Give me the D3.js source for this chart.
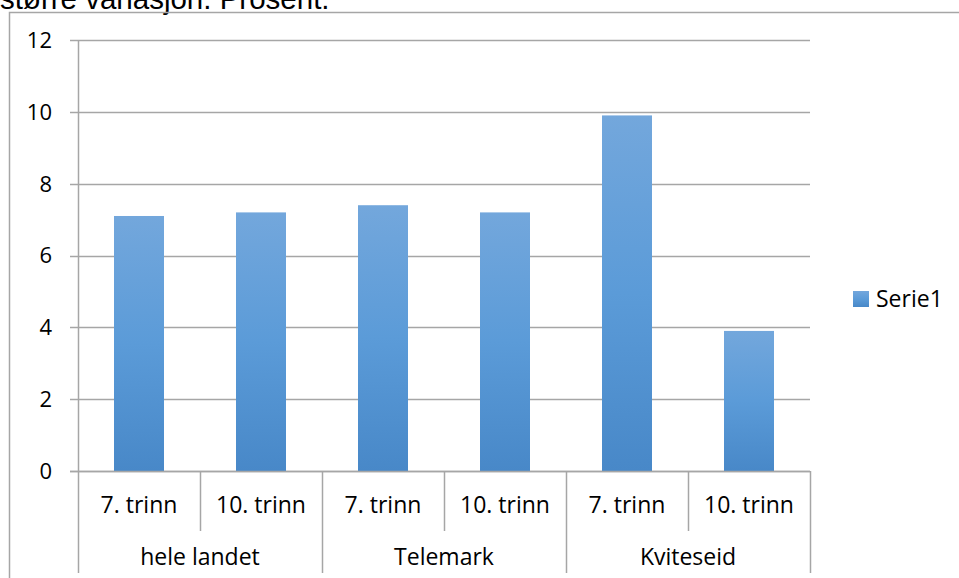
<!DOCTYPE html>
<html><head><meta charset="utf-8">
<script src="https://cdn.jsdelivr.net/npm/d3@7"></script>
<style>body{margin:0;background:#fff;} svg{display:block;}</style>
</head><body>
<svg id="c" width="959" height="578"></svg>
<script>
const groups = ["hele landet", "Telemark", "Kviteseid"];
const levels = ["7. trinn", "10. trinn"];
const values = [7.1, 7.2, 7.4, 7.2, 9.9, 3.9];
const yTicks = [0, 2, 4, 6, 8, 10, 12];
const seriesName = "Serie1";
const title = "større variasjon. Prosent.";

const svg = d3.select("#c");
const font = "'Open Sans', 'Noto Sans', sans-serif";
const L = 78, R = 810, T = 40, B = 471;
const cats = [];
groups.forEach(g => levels.forEach(l => cats.push(g + "|" + l)));
const x = d3.scaleBand().domain(cats).range([L, R]).paddingInner(0);
const y = d3.scaleLinear().domain([0, 12]).range([B, T]);

const defs = svg.append("defs");
const grad = defs.append("linearGradient").attr("id", "bg").attr("x1", 0).attr("y1", 0).attr("x2", 0).attr("y2", 1);
grad.append("stop").attr("offset", "0%").attr("stop-color", "#73a7dc");
grad.append("stop").attr("offset", "50%").attr("stop-color", "#5b9bd8");
grad.append("stop").attr("offset", "100%").attr("stop-color", "#4888c8");

// title text (clipped at top, as in the reference)
svg.append("text").attr("x", 0).attr("y", 9).attr("font-family", "'Liberation Sans', Arial, sans-serif")
  .attr("font-size", 29.5).attr("fill", "#000").text(title);

// outer frame
svg.append("path").attr("d", `M9.5,600 V12.5 H960`).attr("fill", "none").attr("stroke", "#a6a6a6").attr("stroke-width", 1.5);

// gridlines
const gridG = svg.append("g");
gridG.selectAll("line").data(yTicks).join("line")
  .attr("x1", 70).attr("x2", R).attr("y1", d => Math.round(y(d)) + 0.5).attr("y2", d => Math.round(y(d)) + 0.5)
  .attr("stroke", "#a6a6a6").attr("stroke-width", 1.5);

// y axis
const yAxis = svg.append("g").attr("transform", `translate(${L},0)`)
  .call(d3.axisLeft(y).tickValues(yTicks).tickSize(0).tickPadding(26));
yAxis.select(".domain").remove();
yAxis.selectAll("text").attr("font-family", font).attr("font-size", 22).attr("fill", "#000").attr("dy", "0.34em");
svg.append("line").attr("x1", L + 0.5).attr("x2", L + 0.5).attr("y1", T).attr("y2", 573).attr("stroke", "#a6a6a6").attr("stroke-width", 1.5);

// bars
const bw = 50;
svg.append("g").selectAll("rect").data(values).join("rect")
  .attr("x", (d, i) => x(cats[i]) + x.bandwidth() / 2 - bw / 2)
  .attr("width", bw)
  .attr("y", d => y(d))
  .attr("height", d => y(0) - y(d))
  .attr("fill", "url(#bg)");

// x axis baseline
svg.append("line").attr("x1", 70).attr("x2", R).attr("y1", B + 0.5).attr("y2", B + 0.5).attr("stroke", "#a6a6a6").attr("stroke-width", 1.5);

// category separators
const ax = svg.append("g");
cats.forEach((c, i) => {
  if (i === 0) return;
  const xx = x(c) + 0.5;
  const isGroup = i % levels.length === 0;
  ax.append("line").attr("x1", xx).attr("x2", xx).attr("y1", B).attr("y2", isGroup ? 573 : 531)
    .attr("stroke", "#a6a6a6").attr("stroke-width", 1.5);
});
ax.append("line").attr("x1", R + 0.5).attr("x2", R + 0.5).attr("y1", B).attr("y2", 573)
  .attr("stroke", "#a6a6a6").attr("stroke-width", 1.5);

// level labels
ax.selectAll("text.lv").data(cats).join("text").attr("class", "lv")
  .attr("x", d => x(d) + x.bandwidth() / 2).attr("y", 505).attr("dy", "0.35em")
  .attr("text-anchor", "middle").attr("font-family", font).attr("font-size", 23).attr("fill", "#000")
  .text(d => d.split("|")[1]);

// group labels
ax.selectAll("text.gr").data(groups).join("text").attr("class", "gr")
  .attr("x", (g, gi) => (x(cats[gi * levels.length]) + x(cats[gi * levels.length + levels.length - 1]) + x.bandwidth()) / 2)
  .attr("y", 557).attr("dy", "0.35em")
  .attr("text-anchor", "middle").attr("font-family", font).attr("font-size", 23).attr("fill", "#000")
  .text(d => d);

// legend
const lg = svg.append("g").attr("transform", "translate(853,291)");
lg.append("rect").attr("width", 16).attr("height", 16).attr("fill", "url(#bg)");
lg.append("text").attr("x", 23).attr("y", 8).attr("dy", "0.35em").attr("font-family", font).attr("font-size", 23).attr("fill", "#000").text(seriesName);
</script>
</body></html>
